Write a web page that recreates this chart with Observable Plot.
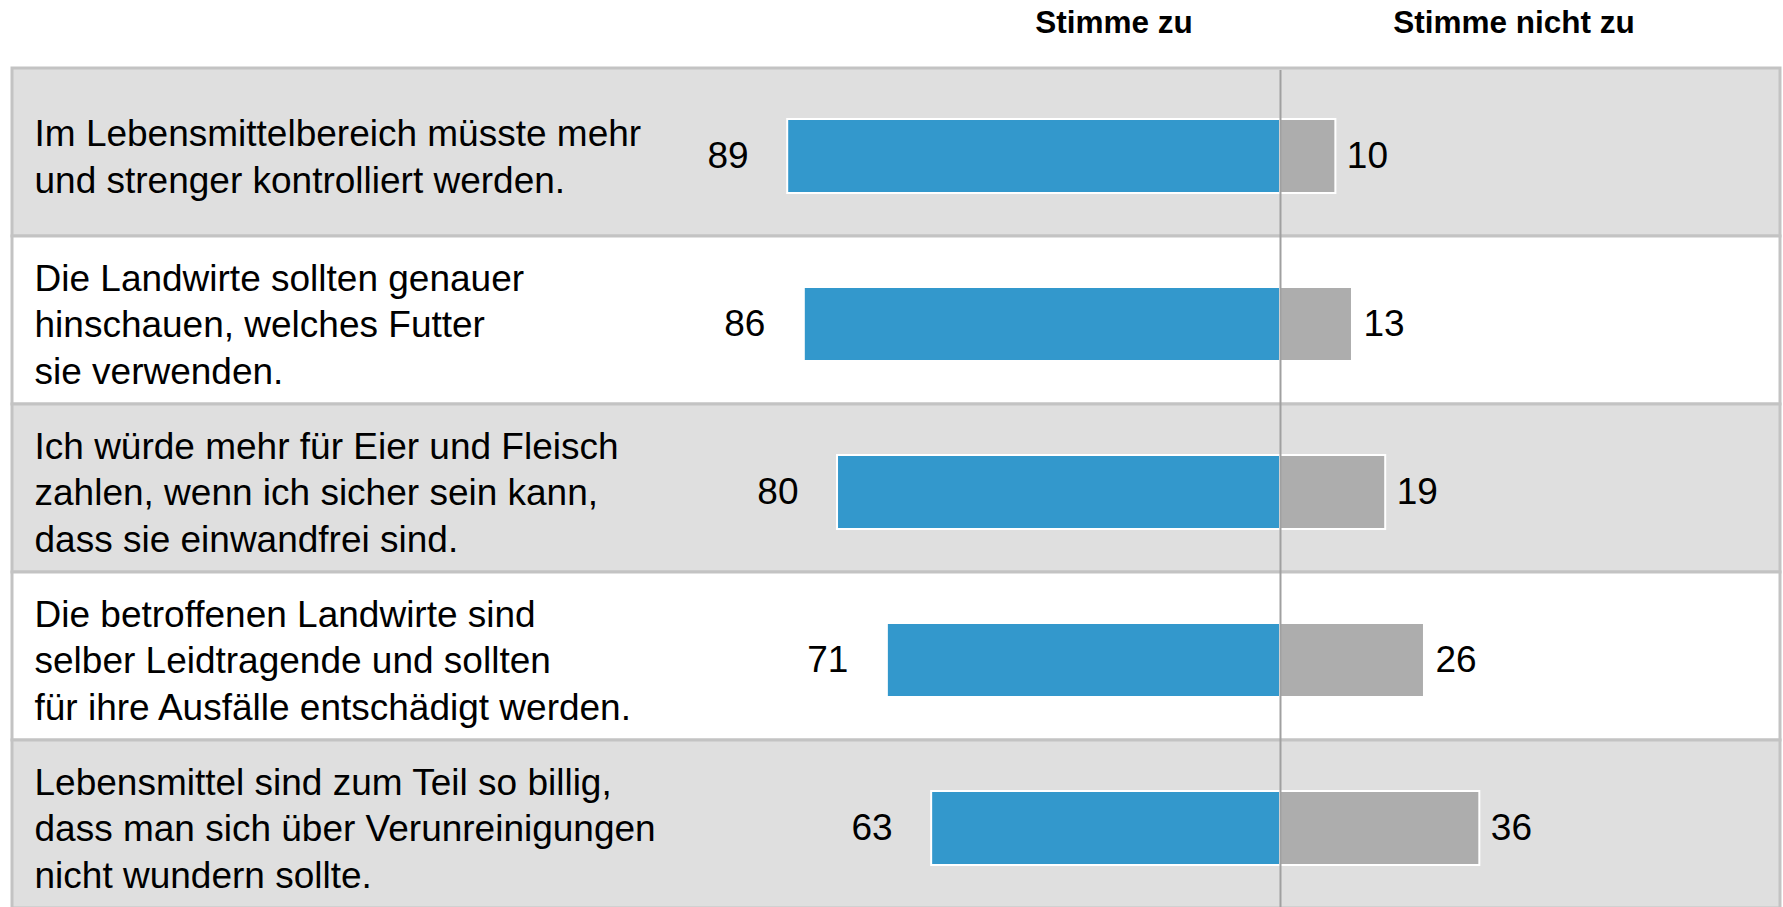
<!DOCTYPE html>
<html>
<head>
<meta charset="utf-8">
<script src="https://cdn.jsdelivr.net/npm/d3@7"></script>
<script src="https://cdn.jsdelivr.net/npm/@observablehq/plot@0.6"></script>
<style>
  html, body { margin: 0; padding: 0; background: #ffffff; overflow: hidden; }
  body { font-family: "Liberation Sans", Arial, sans-serif; }
  #header { position: relative; width: 1783px; height: 64px; }
  #header span {
    position: absolute; top: 7px; font-weight: bold; font-size: 31.5px; line-height: 31.5px;
    transform: translateX(-50%); white-space: nowrap; color: #000;
  }
  #chart svg { display: block; }
</style>
</head>
<body>
<div id="header"></div>
<div id="chart"></div>
<script>
// ---- data ----
const statements = [
  "Im Lebensmittelbereich müsste mehr\nund strenger kontrolliert werden.",
  "Die Landwirte sollten genauer\nhinschauen, welches Futter\nsie verwenden.",
  "Ich würde mehr für Eier und Fleisch\nzahlen, wenn ich sicher sein kann,\ndass sie einwandfrei sind.",
  "Die betroffenen Landwirte sind\nselber Leidtragende und sollten\nfür ihre Ausfälle entschädigt werden.",
  "Lebensmittel sind zum Teil so billig,\ndass man sich über Verunreinigungen\nnicht wundern sollte."
];
const agree = [89, 86, 80, 71, 63];
const disagree = [10, 13, 19, 26, 36];
const headers = ["Stimme zu", "Stimme nicht zu"];

// ---- header (HTML, above the SVG) ----
const headerLefts = ["1114px", "1514px"];
const header = document.getElementById("header");
headers.forEach((h, i) => {
  const s = document.createElement("span");
  s.textContent = h;
  s.style.left = headerLefts[i];
  header.appendChild(s);
});

// ---- chart ----
const rows = statements.map((s, i) => ({
  statement: s, agree: agree[i], disagree: disagree[i], shade: i % 2 === 0
}));
const xDomain = [-229, 90.3];
const font = '"Liberation Sans", Arial, sans-serif';

const chart = Plot.plot({
  width: 1783,
  height: 845,
  marginTop: 2,
  marginBottom: 0,
  marginLeft: 12,
  marginRight: 3,
  style: { fontFamily: font, background: "transparent", overflow: "visible" },
  x: { domain: xDomain, axis: null },
  y: { domain: statements, axis: null, padding: 0 },
  marks: [
    Plot.barX(rows, {
      y: "statement", x1: xDomain[0], x2: xDomain[1],
      fill: d => d.shade ? "#dfdfdf" : "#ffffff",
      stroke: "#c3c3c3", strokeWidth: 3
    }),
    Plot.text(rows, {
      y: "statement", text: "statement", frameAnchor: "left", textAnchor: "start",
      dx: 22, dy: 2, lineHeight: 1.26, fontSize: 37, fill: "#000000"
    }),
    Plot.barX(rows, {
      y: "statement", x1: d => -d.agree, x2: 0,
      fill: "#3398cc", stroke: "#ffffff", strokeWidth: 2, insetTop: 51, insetBottom: 43
    }),
    Plot.barX(rows, {
      y: "statement", x1: 0, x2: "disagree",
      fill: "#adadad", stroke: "#ffffff", strokeWidth: 2, insetTop: 51, insetBottom: 43
    }),
    Plot.ruleX([0], { stroke: "#a0a0a0", strokeWidth: 2, insetTop: 4 }),
    Plot.text(rows, {
      y: "statement", x: d => -d.agree, text: d => String(d.agree),
      textAnchor: "end", dx: -39, dy: 4, fontSize: 37, fill: "#000000"
    }),
    Plot.text(rows, {
      y: "statement", x: "disagree", text: d => String(d.disagree),
      textAnchor: "start", dx: 11, dy: 4, fontSize: 37, fill: "#000000"
    })
  ]
});
document.getElementById("chart").appendChild(chart);
</script>
</body>
</html>
